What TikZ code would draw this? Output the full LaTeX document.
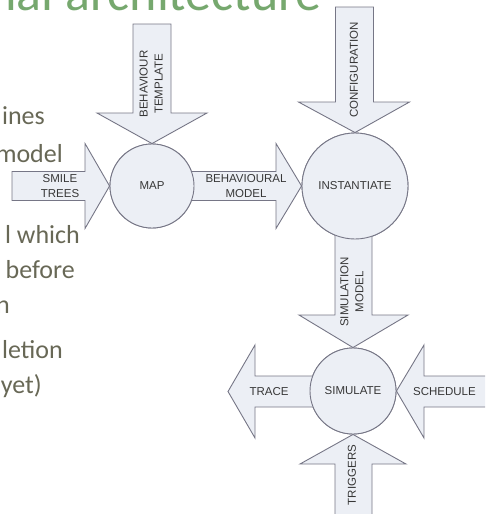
\documentclass[tikz,border=0pt]{standalone}
\usepackage{fontspec}
\setmainfont{Liberation Sans}
\newfontfamily\slidefont{Carlito}
\usetikzlibrary{calc}

\definecolor{titlegreen}{RGB}{118,168,110}
\definecolor{bodyolive}{RGB}{104,104,86}
\definecolor{shapefill}{RGB}{236,239,245}
\definecolor{shapeline}{RGB}{118,118,134}
\definecolor{labelgray}{RGB}{55,55,55}

\tikzset{
  blockarrow/.style={draw=shapeline, fill=shapefill, line width=0.9pt, line join=miter},
  stage/.style={circle, draw=shapeline, fill=shapefill, line width=0.9pt, inner sep=0pt},
  lbl/.style={font=\fontsize{11.5}{15}\selectfont, text=labelgray, align=center, inner sep=0pt},
  slidetitle/.style={font=\slidefont\fontsize{52}{60}\selectfont, text=titlegreen, inner sep=0pt, anchor=base west},
  slidebody/.style={font=\slidefont\fontsize{26}{31}\selectfont, text=bodyolive, inner sep=0pt, anchor=base east},
}

\begin{document}
\begin{tikzpicture}[x=1pt, y=-1pt]
\useasboundingbox (0,0) rectangle (485,514);
\clip (0,0) rectangle (485,514);

% slide title and bullet text (partly outside the frame)
\node[slidetitle] (title) at (-10.6,10) {nal architecture};
\node[slidebody] (t1) at (45,124) {ines};
\node[slidebody] (t2) at (63,162) {model};
\node[slidebody] (t3) at (80,243) {l which};
\node[slidebody] (t4) at (75,278) {before};
\node[slidebody] (t5) at (10,313) {n};
\node[slidebody] (t6) at (63,358) {letion};
\node[slidebody] (t7) at (42,393) {yet)};

% process stages (placed first so the arrows can end on them)
\node[stage, minimum size=84pt]  (map)  at (152,186) {};
\node[stage, minimum size=106pt] (inst) at (355,186) {};
\node[stage, minimum size=86pt]  (sim)  at (353,391) {};

% block arrows
\draw[blockarrow] (map.west) -- (85,143.5) -- (85,171.5) -- (12,171.5) -- (12,200.5) -- (85,200.5) -- (85,228.5) -- cycle;
\draw[blockarrow] (inst.west) -- (276,143.5) -- (276,171.5) -- (188,171.5) -- (188,200.5) -- (276,200.5) -- (276,228.5) -- cycle;
\draw[blockarrow] (map.north) -- (97,113) -- (133,113) -- (133,24) -- (171,24) -- (171,113) -- (207,113) -- cycle;
\draw[blockarrow] (inst.north) -- (298.5,102) -- (335.5,102) -- (335.5,7) -- (373.5,7) -- (373.5,102) -- (409.5,102) -- cycle;
\draw[blockarrow] (sim.north) -- (299,315) -- (335,315) -- (335,234) -- (372,234) -- (372,315) -- (408,315) -- cycle;
\draw[blockarrow] (sim.south) -- (300,464) -- (335,464) -- (335,530) -- (372,530) -- (372,464) -- (406,464) -- cycle;
\coordinate (traceTip) at (228,391.5);
\draw[blockarrow] (traceTip) -- (255,345) -- (255,376) -- (316,376) -- (316,407) -- (255,407) -- (255,438) -- cycle;
\draw[blockarrow] (sim.east) -- (424,345) -- (424,376) -- (495,376) -- (495,407) -- (424,407) -- (424,438) -- cycle;

% redraw the stages over the arrow ends
\node[stage, minimum size=84pt]  at (map)  {};
\node[stage, minimum size=106pt] at (inst) {};
\node[stage, minimum size=86pt]  at (sim)  {};

% labels
\node[lbl] (mapL)  at (map)  {MAP};
\node[lbl] (instL) at (inst) {INSTANTIATE};
\node[lbl] (simL)  at (sim)  {SIMULATE};
\node[lbl] (smile) at (60,186) {SMILE\\TREES};
\node[lbl] (bmod)  at (246,186) {BEHAVIOURAL\\MODEL};
\node[lbl, rotate=90] (btpl) at (151,84) {BEHAVIOUR\\TEMPLATE};
\node[lbl, rotate=90] (conf) at (354,70) {CONFIGURATION};
\node[lbl, rotate=90] (smod) at (352,292) {SIMULATION\\MODEL};
\node[lbl, rotate=90] (trig) at (352,475) {TRIGGERS};
\node[lbl] (trace) at (269,391.5) {TRACE};
\node[lbl] (sched) at (444.5,391.5) {SCHEDULE};
\end{tikzpicture}
\end{document}
